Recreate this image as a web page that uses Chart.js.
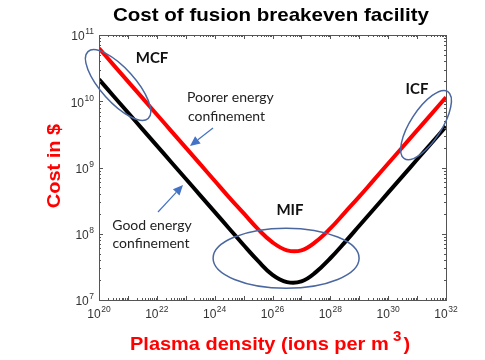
<!DOCTYPE html>
<html><head><meta charset="utf-8">
<script src="https://cdn.jsdelivr.net/npm/chart.js@4.4.1/dist/chart.umd.min.js"></script>
<style>html,body{margin:0;padding:0;background:#fff}#wrap{width:485px;height:360px}</style>
</head><body><div id="wrap"><canvas id="c" width="485" height="360"></canvas></div>
<script>
// Plasma density, log10(ions per m^3)
const densityExp = [20,20.5,21,21.5,22,22.5,23,23.5,24,24.5,25,25.5,26,26.5,27,27.5,28,28.5,29,29.5,30,30.5,31,31.5,32];
// log10(cost in $) — poorer energy confinement (red)
const poorerLogCost = [10.80,10.55,10.30,10.05,9.80,9.55,9.30,9.05,8.80,8.55,8.31,8.07,7.87,7.75,7.75,7.88,8.08,8.32,8.56,8.81,9.06,9.31,9.56,9.81,10.06];
// log10(cost in $) — good energy confinement (black)
const goodLogCost = [10.33,10.08,9.83,9.58,9.33,9.08,8.83,8.58,8.33,8.08,7.83,7.59,7.38,7.27,7.28,7.42,7.63,7.87,8.12,8.37,8.62,8.87,9.12,9.37,9.62];
const xTickExp = [20,22,24,26,28,30,32];
const yTickExp = [7,8,9,10,11];
const regionLabels = ["MCF","MIF","ICF"];

const toPts = (ys) => densityExp.map((e,i) => ({x: Math.pow(10,e), y: Math.pow(10, ys[i])}));

function supLabel(ctx, base, exp, x, y, align){
  ctx.font = '12px "Liberation Sans", Arial, sans-serif';
  const bw = ctx.measureText(base).width;
  ctx.font = '8.5px "Liberation Sans", Arial, sans-serif';
  const ew = ctx.measureText(exp).width;
  const total = bw + ew + 0.5;
  let sx = align === 'right' ? x - total : x - total/2;
  ctx.textAlign = 'left'; ctx.textBaseline = 'middle';
  ctx.font = '12px "Liberation Sans", Arial, sans-serif';
  ctx.fillText(base, sx, y);
  ctx.font = '8.5px "Liberation Sans", Arial, sans-serif';
  ctx.fillText(exp, sx + bw + 0.5, y - 5);
}

function stretchedText(ctx, txt, x, y, font, color, sx, rot){
  ctx.save();
  ctx.translate(x, y);
  if (rot) ctx.rotate(rot);
  ctx.scale(sx, 1);
  ctx.font = font; ctx.fillStyle = color;
  ctx.textAlign = 'center'; ctx.textBaseline = 'middle';
  ctx.fillText(txt, 0, 0);
  ctx.restore();
}

function arrow(ctx, x1, y1, x2, y2){
  const ang = Math.atan2(y2-y1, x2-x1);
  const hl = 10, hw = 4.5;
  const bx = x2 - hl*Math.cos(ang), by = y2 - hl*Math.sin(ang);
  ctx.strokeStyle = '#4472c4'; ctx.fillStyle = '#4472c4'; ctx.lineWidth = 1.2;
  ctx.beginPath(); ctx.moveTo(x1,y1); ctx.lineTo(bx,by); ctx.stroke();
  ctx.beginPath();
  ctx.moveTo(x2,y2);
  ctx.lineTo(bx + hw*Math.sin(ang), by - hw*Math.cos(ang));
  ctx.lineTo(bx - hw*Math.sin(ang), by + hw*Math.cos(ang));
  ctx.closePath(); ctx.fill();
}

const decor = {
  id: 'decor',
  afterDatasetsDraw(chart){
    const ctx = chart.ctx, xs = chart.scales.x, ys = chart.scales.y, a = chart.chartArea;
    const X = e => xs.getPixelForValue(Math.pow(10,e));
    const Y = e => ys.getPixelForValue(Math.pow(10,e));
    ctx.save();
    // frame
    ctx.strokeStyle = '#555'; ctx.lineWidth = 1;
    ctx.strokeRect(Math.round(a.left)+0.5, Math.round(a.top)+0.5, Math.round(a.right-a.left), Math.round(a.bottom-a.top));
    // ticks
    ctx.beginPath();
    for (let k = 20; k <= 32; k++){
      const px = Math.round(X(k)) + 0.5;
      ctx.moveTo(px, a.bottom); ctx.lineTo(px, a.bottom-4);
      ctx.moveTo(px, a.top); ctx.lineTo(px, a.top+4);
      if (k < 32) for (let m = 2; m <= 9; m++){
        const mx = Math.round(xs.getPixelForValue(m*Math.pow(10,k))) + 0.5;
        ctx.moveTo(mx, a.bottom); ctx.lineTo(mx, a.bottom-2);
        ctx.moveTo(mx, a.top); ctx.lineTo(mx, a.top+2);
      }
    }
    for (let k = 7; k <= 11; k++){
      const py = Math.round(Y(k)) + 0.5;
      ctx.moveTo(a.left, py); ctx.lineTo(a.left+4, py);
      ctx.moveTo(a.right, py); ctx.lineTo(a.right-4, py);
      if (k < 11) for (let m = 2; m <= 9; m++){
        const my = Math.round(ys.getPixelForValue(m*Math.pow(10,k))) + 0.5;
        ctx.moveTo(a.left, my); ctx.lineTo(a.left+2, my);
        ctx.moveTo(a.right, my); ctx.lineTo(a.right-2, my);
      }
    }
    ctx.stroke();
    // tick labels
    ctx.fillStyle = '#333';
    xTickExp.forEach(e => supLabel(ctx, '10', String(e), X(e), a.bottom + 15, 'center'));
    yTickExp.forEach(e => supLabel(ctx, '10', String(e), a.left - 5, Y(e) + 2, 'right'));

    // ellipses
    ctx.strokeStyle = '#4a67a0'; ctx.lineWidth = 1.5;
    const ell = (ex, ey, rx, ry, rot) => { ctx.beginPath(); ctx.ellipse(X(ex), Y(ey), rx, ry, rot, 0, Math.PI*2); ctx.stroke(); };
    ell(20.66, 10.245, 45, 17, 48*Math.PI/180);
    ell(26.47, 7.63, 73, 30, 0);
    ell(31.31, 9.64, 40, 15.5, -57*Math.PI/180);

    // region labels
    ctx.fillStyle = '#111';
    ctx.font = 'bold 15px Lato, "Open Sans", sans-serif';
    ctx.textAlign = 'center'; ctx.textBaseline = 'middle';
    ctx.fillText(regionLabels[0], 152, 58);
    ctx.fillText(regionLabels[1], 290, 210);
    ctx.fillText(regionLabels[2], 417, 89);

    // annotation texts
    ctx.font = '14px Lato, "Open Sans", sans-serif';
    ctx.fillStyle = '#222';
    ctx.textAlign = 'left';
    ctx.fillText('Poorer energy', 187, 97);
    ctx.fillText('confinement', 188, 116);
    ctx.textAlign = 'center';
    ctx.fillText('Good energy', 152, 225);
    ctx.fillText('confinement', 151, 243);

    arrow(ctx, 213, 128, 190, 146);
    arrow(ctx, 158, 212, 183, 185);

    // title and axis titles
    const bold = 'bold 18.5px "Liberation Sans", Arial, sans-serif';
    stretchedText(ctx, 'Cost of fusion breakeven facility', 271, 16, bold, '#000', 1.11, 0);
    stretchedText(ctx, 'Cost in $', 55, 166, bold, '#ff0000', 1.08, -Math.PI/2);
    // x title with superscript
    ctx.save();
    ctx.translate(130, 345); ctx.scale(1.08, 1);
    ctx.fillStyle = '#ff0000'; ctx.textAlign = 'left'; ctx.textBaseline = 'middle';
    ctx.font = bold;
    const main = 'Plasma density (ions per m';
    const mw = ctx.measureText(main).width;
    ctx.fillText(main, 0, 0);
    ctx.font = 'bold 14px "Liberation Sans", Arial, sans-serif';
    ctx.fillText('3', mw + 4, -8);
    const sw = ctx.measureText('3').width;
    ctx.font = bold;
    ctx.fillText(')', mw + 4 + sw + 2, 0);
    ctx.restore();

    ctx.restore();
  }
};

new Chart(document.getElementById('c'), {
  type: 'line',
  data: {
    datasets: [
      { label: 'Poorer energy confinement', data: toPts(poorerLogCost), borderColor: '#ff0000', borderWidth: 4, pointRadius: 0, fill: false, tension: 0.4 },
      { label: 'Good energy confinement', data: toPts(goodLogCost), borderColor: '#000000', borderWidth: 4, pointRadius: 0, fill: false, tension: 0.4 }
    ]
  },
  options: {
    responsive: false, animation: false, devicePixelRatio: 1,
    layout: { padding: { left: 99, top: 35, right: 39, bottom: 60 } },
    plugins: { legend: { display: false }, tooltip: { enabled: false }, title: { display: false } },
    scales: {
      x: { type: 'logarithmic', display: false, min: 1e20, max: 1e32 },
      y: { type: 'logarithmic', display: false, min: 1e7, max: 1e11 }
    }
  },
  plugins: [decor]
});
</script>
</body></html>
